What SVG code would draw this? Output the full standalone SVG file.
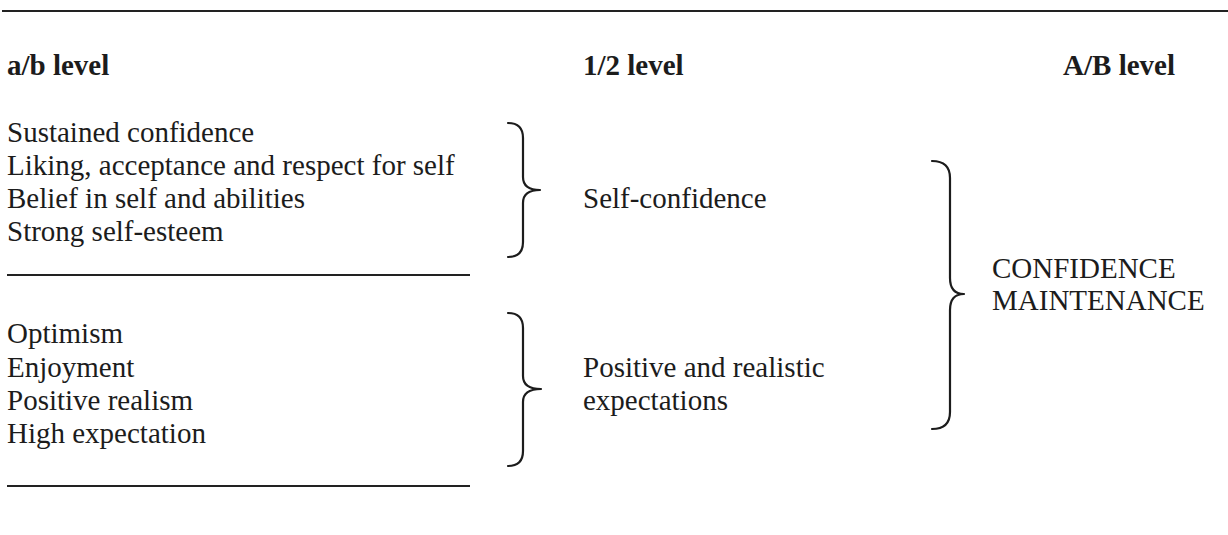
<svg xmlns="http://www.w3.org/2000/svg" width="1228" height="535" viewBox="0 0 1228 535">
  <style>
    text { font-family: "Liberation Serif", "Times New Roman", serif; font-size: 29px; fill: #1c1c1c; }
    .head { font-weight: bold; }
    .rule { stroke: #222; stroke-width: 2; fill: none; }
    .brace { stroke: #1c1c1c; stroke-width: 2.2; fill: none; stroke-linecap: round; stroke-linejoin: round; }
  </style>
  <rect width="1228" height="535" fill="#ffffff"/>

  <!-- rules -->
  <g id="rules">
    <line class="rule" x1="2" y1="11" x2="1228" y2="11"/>
    <line class="rule" x1="7" y1="275" x2="470" y2="275"/>
    <line class="rule" x1="7" y1="486" x2="470" y2="486"/>
  </g>

  <!-- column headings -->
  <g id="headings">
    <text class="head" x="7" y="75">a/b level</text>
    <text class="head" x="583" y="75">1/2 level</text>
    <text class="head" x="1175" y="75" text-anchor="end">A/B level</text>
  </g>

  <g id="node-ab-confidence">
    <text x="7" y="142">Sustained confidence</text>
    <text x="7" y="175">Liking, acceptance and respect for self</text>
    <text x="7" y="208">Belief in self and abilities</text>
    <text x="7" y="241">Strong self-esteem</text>
  </g>

  <g id="node-ab-expectations">
    <text x="7" y="343">Optimism</text>
    <text x="7" y="377">Enjoyment</text>
    <text x="7" y="410">Positive realism</text>
    <text x="7" y="443">High expectation</text>
  </g>

  <g id="node-self-confidence">
    <text x="583" y="208">Self-confidence</text>
  </g>

  <g id="node-positive-expectations">
    <text x="583" y="377">Positive and realistic</text>
    <text x="583" y="410">expectations</text>
  </g>

  <g id="node-confidence-maintenance">
    <text x="992" y="278">CONFIDENCE</text>
    <text x="992" y="310">MAINTENANCE</text>
  </g>

  <!-- braces joining each level to the next -->
  <g id="connectors">
    <path class="brace" d="M508,123 Q523,123 523,138 L523,177 Q523,190 540,190 Q523,190 523,203 L523,242 Q523,257 508,257"/>
    <path class="brace" d="M508,313 Q523,313 523,328 L523,376 Q523,389 541,389 Q523,389 523,402 L523,451 Q523,466 508,466"/>
    <path class="brace" d="M932,161 Q950,161 950,178 L950,278 Q950,294 964,294 Q950,294 950,310 L950,412 Q950,429 932,429"/>
  </g>
</svg>
